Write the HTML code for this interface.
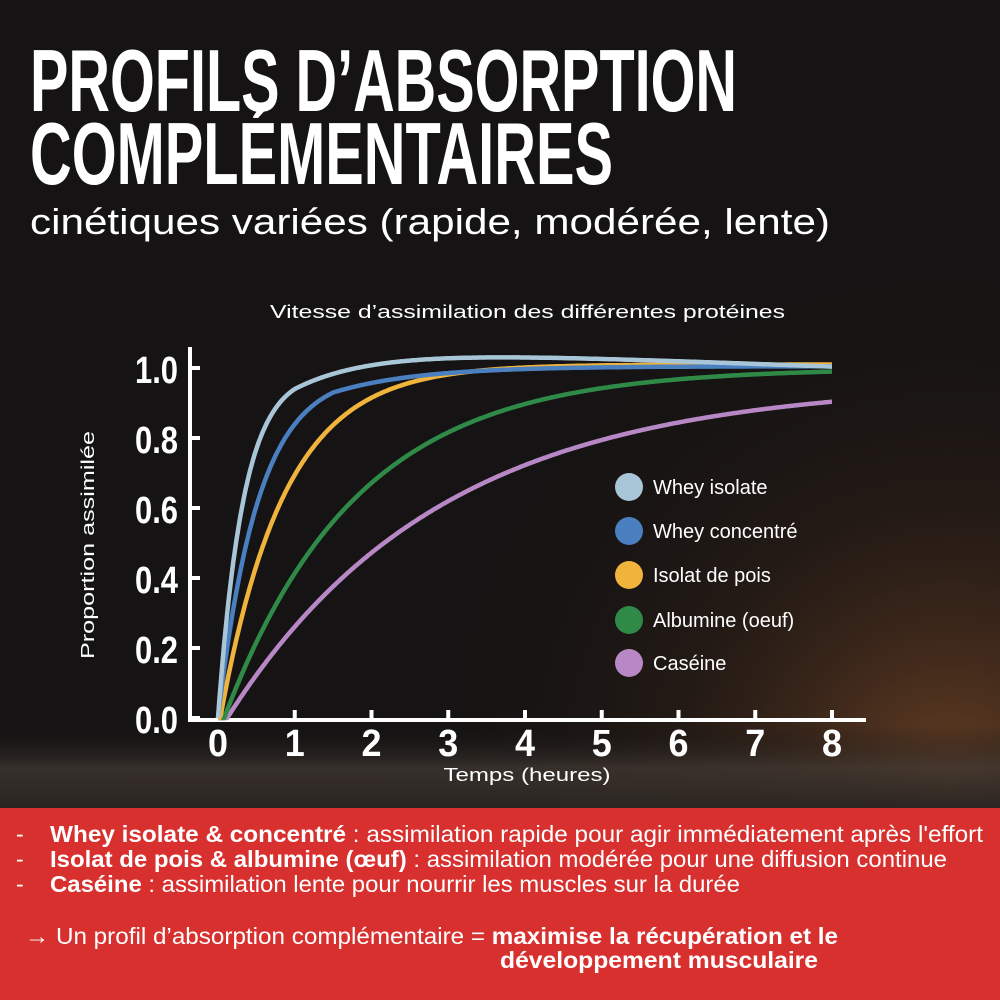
<!DOCTYPE html>
<html><head><meta charset="utf-8"><style>
html,body{margin:0;padding:0;background:#141212;}
svg{display:block}
</style></head><body>
<svg id="s" width="1000" height="1000" viewBox="0 0 1000 1000" xmlns="http://www.w3.org/2000/svg">
<defs>
<radialGradient id="glow" cx="0.95" cy="0.78" r="0.55">
<stop offset="0" stop-color="#7a4a28" stop-opacity="0.8"/>
<stop offset="0.5" stop-color="#3a2518" stop-opacity="0.4"/>
<stop offset="1" stop-color="#141212" stop-opacity="0"/>
</radialGradient>
<linearGradient id="floor" x1="0" y1="0" x2="0" y2="1">
<stop offset="0" stop-color="#141212" stop-opacity="0"/>
<stop offset="0.5" stop-color="#3e3630" stop-opacity="0.8"/>
<stop offset="1" stop-color="#2a2420" stop-opacity="1"/>
</linearGradient>
</defs>
<rect width="1000" height="1000" fill="#151313"/>
<rect width="1000" height="1000" fill="url(#glow)"/>
<rect x="0" y="725" width="1000" height="85" fill="url(#floor)"/>

<g font-family="Liberation Sans, sans-serif" fill="#fff">
<text x="30" y="111" font-size="88" font-weight="bold" textLength="707" lengthAdjust="spacingAndGlyphs">PROFILS D’ABSORPTION</text>
<text x="30" y="184" font-size="88" font-weight="bold" textLength="583" lengthAdjust="spacingAndGlyphs">COMPLÉMENTAIRES</text>
<text x="30" y="234" font-size="36" textLength="800" lengthAdjust="spacingAndGlyphs">cinétiques variées (rapide, modérée, lente)</text>
<text x="270" y="318" font-size="18" textLength="515" lengthAdjust="spacingAndGlyphs">Vitesse d’assimilation des différentes protéines</text>

<g font-weight="bold" font-size="38">
<text x="178" y="383" text-anchor="end" textLength="43" lengthAdjust="spacingAndGlyphs">1.0</text>
<text x="178" y="453" text-anchor="end" textLength="43" lengthAdjust="spacingAndGlyphs">0.8</text>
<text x="178" y="523" text-anchor="end" textLength="43" lengthAdjust="spacingAndGlyphs">0.6</text>
<text x="178" y="593" text-anchor="end" textLength="43" lengthAdjust="spacingAndGlyphs">0.4</text>
<text x="178" y="663" text-anchor="end" textLength="43" lengthAdjust="spacingAndGlyphs">0.2</text>
<text x="178" y="733" text-anchor="end" textLength="43" lengthAdjust="spacingAndGlyphs">0.0</text>
</g>
<g font-weight="bold" font-size="38" text-anchor="middle" id="xl"></g>
<text x="527" y="781" font-size="18" text-anchor="middle" textLength="167" lengthAdjust="spacingAndGlyphs">Temps (heures)</text>
<text transform="translate(94,545) rotate(-90)" font-size="18" text-anchor="middle" textLength="228" lengthAdjust="spacingAndGlyphs">Proportion assimilée</text>
</g>

<g stroke="#fff" stroke-width="4" fill="none">
<path d="M190 347 V720 H866"/>
<path d="M190 368h10M190 438h10M190 508h10M190 578h10M190 648h10M190 718h10"/>
<g id="xt"></g>
</g>
<g id="curves" fill="none" stroke-width="4.5" stroke-linejoin="round"></g>

<g font-family="Liberation Sans, sans-serif" fill="#fff" font-size="20">
<circle cx="629" cy="487" r="14" fill="#a9c6d8"/><text x="653" y="494">Whey isolate</text>
<circle cx="629" cy="531" r="14" fill="#4a7fc0"/><text x="653" y="538">Whey concentré</text>
<circle cx="629" cy="575" r="14" fill="#f0b43c"/><text x="653" y="582">Isolat de pois</text>
<circle cx="629" cy="620" r="14" fill="#2f8a48"/><text x="653" y="627">Albumine (oeuf)</text>
<circle cx="629" cy="663" r="14" fill="#b888c6"/><text x="653" y="670">Caséine</text>
</g>

<rect x="0" y="808" width="1000" height="192" fill="#d8302e"/>
<g font-family="Liberation Sans, sans-serif" fill="#fff" font-size="23">
<text x="16" y="842">-</text><text x="16" y="867">-</text><text x="16" y="892">-</text>
<text x="50" y="842" textLength="933" lengthAdjust="spacingAndGlyphs"><tspan font-weight="bold">Whey isolate &amp; concentré</tspan> : assimilation rapide pour agir immédiatement après l'effort</text>
<text x="50" y="867" textLength="897" lengthAdjust="spacingAndGlyphs"><tspan font-weight="bold">Isolat de pois &amp; albumine (œuf)</tspan> : assimilation modérée pour une diffusion continue</text>
<text x="50" y="892" textLength="690" lengthAdjust="spacingAndGlyphs"><tspan font-weight="bold">Caséine</tspan> : assimilation lente pour nourrir les muscles sur la durée</text>
<text x="25" y="944" textLength="813" lengthAdjust="spacingAndGlyphs">→ Un profil d’absorption complémentaire = <tspan font-weight="bold">maximise la récupération et le</tspan></text>
<text x="500" y="968" font-weight="bold" textLength="318" lengthAdjust="spacingAndGlyphs">développement musculaire</text>
</g>
</svg>
<script>
var NS="http://www.w3.org/2000/svg";
function X(t){return 218+t*76.75;}function Y(v){return 718-v*350;}
var xl=document.getElementById('xl'),xt=document.getElementById('xt');
for(var i=0;i<=8;i++){var t=document.createElementNS(NS,'text');t.setAttribute('x',X(i));t.setAttribute('y',756);t.setAttribute('textLength',20);t.setAttribute('lengthAdjust','spacingAndGlyphs');t.textContent=i;xl.appendChild(t);
if(i>0){var p=document.createElementNS(NS,'path');p.setAttribute('d','M'+X(i)+' 720v-10');xt.appendChild(p);}}
var E=Math.exp;
var fns=[
["#b888c6",function(t){t=Math.max(0,t-0.12);return 0.96*(1-E(-0.36*t));}],
["#2f8a48",function(t){t=Math.max(0,t-0.08);return 1.0*(1-E(-0.58*t));}],
["#f0b43c",function(t){t=Math.max(0,t-0.03);return 1.01*(1-E(-1.2*t));}],
["#4a7fc0",function(t){var a=0.93*(1-E(-1.9*t))/(1-E(-2.85));if(t<=1.5)return a;return 0.93+0.075*(1-E(-(t-1.5)*0.9));}],
["#a9c6d8",function(t){if(t<=1)return 0.94*(1-E(-3*t))/(1-E(-3));return 0.94+0.12*(1-E(-(t-1)*1.0))-0.008*(t-1);}]
];
var g=document.getElementById('curves');
fns.forEach(function(f){var d='';for(var k=0;k<=400;k++){var t=k*8/400;d+=(k?'L':'M')+X(t).toFixed(1)+' '+Y(f[1](t)).toFixed(1);}
var p=document.createElementNS(NS,'path');p.setAttribute('d',d);p.setAttribute('stroke',f[0]);g.appendChild(p);});
</script>
</body></html>
